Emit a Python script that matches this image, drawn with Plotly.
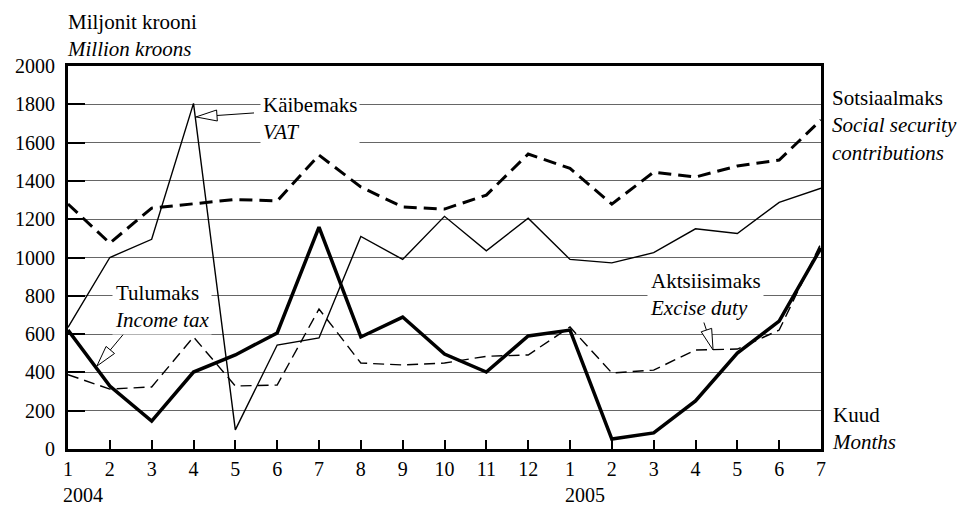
import math
import plotly.graph_objects as go

# months: 2004 Jan..Dec, 2005 Jan..Jul
month_pos = list(range(1, 20))
month_labels = [str(m) for m in range(1, 13)] + [str(m) for m in range(1, 8)]

# million kroons
kaibemaks = [635, 1000, 1095, 1805, 100, 543, 580, 1110, 990, 1215, 1035, 1205, 990, 972, 1025, 1150, 1125, 1288, 1362]
sotsiaalmaks = [1279, 1075, 1258, 1279, 1303, 1295, 1535, 1368, 1264, 1253, 1326, 1540, 1465, 1279, 1446, 1420, 1478, 1509, 1718]
tulumaks = [621, 329, 146, 402, 491, 606, 1159, 585, 689, 496, 402, 590, 621, 52, 84, 251, 501, 668, 1050]
aktsiisimaks = [388, 313, 324, 585, 329, 334, 731, 449, 439, 449, 484, 491, 637, 397, 412, 517, 522, 621, 1075]

FONT = "Times New Roman, Liberation Serif, DejaVu Serif, serif"
L, R, T, B = 68, 138, 66, 58
W, H = 959, 507
PX_X = (W - L - R) / 18      # pixels per month
PX_Y = (H - T - B) / 2000    # pixels per million

fig = go.Figure()
fig.add_trace(go.Scatter(x=month_pos, y=kaibemaks, mode="lines",
                         line=dict(color="black", width=1.4), name="Käibemaks"))
fig.add_trace(go.Scatter(x=month_pos, y=sotsiaalmaks, mode="lines",
                         line=dict(color="black", width=3, dash="13px,7px"), name="Sotsiaalmaks"))
fig.add_trace(go.Scatter(x=month_pos, y=tulumaks, mode="lines",
                         line=dict(color="black", width=3.5), name="Tulumaks"))
fig.add_trace(go.Scatter(x=month_pos, y=aktsiisimaks, mode="lines",
                         line=dict(color="black", width=1.4, dash="11px,6px"), name="Aktsiisimaks"))


def label(x, y, text, xref="x", yref="y", bg="white"):
    fig.add_annotation(x=x, y=y, xref=xref, yref=yref, text=text, showarrow=False,
                       xanchor="left", yanchor="top", align="left",
                       bgcolor=bg, borderpad=2,
                       font=dict(family=FONT, size=21, color="black"))


def pointer(tip_x, tip_y, dx, dy, length=21, half=5.5):
    """hollow triangle arrow; dx, dy = tail offset from tip in screen pixels"""
    n = math.hypot(dx, dy)
    ux, uy = dx / n, dy / n
    px, py = -uy, ux

    def to_data(sx, sy):
        return tip_x + sx / PX_X, tip_y - sy / PX_Y

    bx, by = ux * length, uy * length
    c1 = to_data(bx + px * half, by + py * half)
    c2 = to_data(bx - px * half, by - py * half)
    base = to_data(bx, by)
    tail = to_data(dx, dy)
    fig.add_shape(type="line", x0=base[0], y0=base[1], x1=tail[0], y1=tail[1],
                  line=dict(color="black", width=1))
    fig.add_shape(type="path",
                  path=f"M {tip_x},{tip_y} L {c1[0]},{c1[1]} L {c2[0]},{c2[1]} Z",
                  fillcolor="white", line=dict(color="black", width=1))


label(5.58, 1875, "Käibemaks<br><i>VAT</i>")
label(2.06, 895, "Tulumaks<br><i>Income tax</i>")
label(14.84, 955, "Aktsiisimaks<br><i>Excise duty</i>")
label(-0.005, 1.155, "Miljonit krooni<br><i>Million kroons</i>", "paper", "paper", bg="rgba(0,0,0,0)")
label(1.01, 0.955, "Sotsiaalmaks<br><i>Social security<br>contributions</i>", "paper", "paper", bg="rgba(0,0,0,0)")
label(1.01, 0.127, "Kuud<br><i>Months</i>", "paper", "paper", bg="rgba(0,0,0,0)")

pointer(4.06, 1734, 58, -4)
pointer(1.69, 433, 30, -36)
pointer(16.42, 517, -11, -33)

for xpos, yr in [(1, "2004"), (13, "2005")]:
    fig.add_annotation(x=xpos, y=0, xref="x", yref="y", text=yr, showarrow=False,
                       xanchor="left", yanchor="top", xshift=-7, yshift=-33,
                       font=dict(family=FONT, size=20, color="black"))

fig.update_xaxes(range=[1, 19], tickvals=month_pos, ticktext=month_labels,
                 showgrid=False, zeroline=False,
                 showline=True, mirror=True, linewidth=3, linecolor="black",
                 ticks="inside", ticklen=9, tickwidth=1.5, tickcolor="black",
                 tickfont=dict(family=FONT, size=20, color="black"))
fig.update_yaxes(range=[0, 2000], dtick=200, tick0=0,
                 showgrid=True, gridcolor="#666", gridwidth=1, zeroline=False,
                 showline=True, mirror=True, linewidth=3, linecolor="black",
                 ticks="inside", ticklen=17, tickwidth=2, tickcolor="black",
                 ticklabelstandoff=6,
                 tickfont=dict(family=FONT, size=20, color="black"))

fig.update_layout(width=W, height=H, showlegend=False,
                  margin=dict(l=L, r=R, t=T, b=B),
                  paper_bgcolor="white", plot_bgcolor="white",
                  font=dict(family=FONT, color="black"))

fig.write_html("out.html", config={"displayModeBar": False},
               post_script="document.body.style.margin='0';")
